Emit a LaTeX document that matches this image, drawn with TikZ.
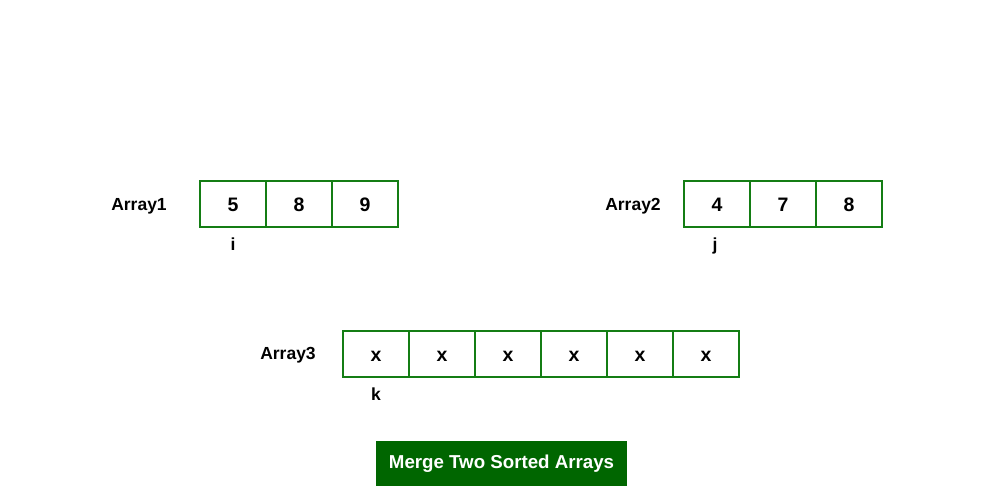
\documentclass[tikz,border=0pt]{standalone}
\usepackage{fontspec}
\setmainfont{Liberation Sans}
\definecolor{cellgreen}{RGB}{20,125,20}
\definecolor{btngreen}{RGB}{0,102,0}
\begin{document}
\begin{tikzpicture}[x=1pt,y=-1pt,
  cell/.style={draw=cellgreen,line width=2pt,minimum width=66pt,minimum height=46pt,inner sep=0pt,
    font=\fontsize{19.5}{22}\selectfont\bfseries,anchor=center,text height=16pt,text depth=0pt},
  lbl/.style={font=\fontsize{17.5}{20}\selectfont\bfseries,inner sep=0pt},
  button/.style={fill=btngreen,text=white,minimum width=251pt,minimum height=45pt,inner sep=0pt,
    font=\fontsize{18.7}{22}\selectfont\bfseries}]
\useasboundingbox (0,0) rectangle (1002,502);
% Array1
\node[lbl] (l1) at (139,206.5) {Array1};
\node[cell] (a1) at (233,204) {5};
\node[cell] (a2) at (299,204) {8};
\node[cell] (a3) at (365,204) {9};
\node[lbl] (pi) at (233,244.5) {i};
% Array2
\node[lbl] (l2) at (633,206.5) {Array2};
\node[cell] (b1) at (717,204) {4};
\node[cell] (b2) at (783,204) {7};
\node[cell] (b3) at (849,204) {8};
\node[lbl] (pj) at (715,245.5) {j};
% Array3
\node[lbl] (l3) at (288,355.5) {Array3};
\foreach \k in {0,...,5}{
  \node[cell] (c\k) at (376+66*\k,354) {x};
}
\node[lbl] (pk) at (376,394.5) {k};
% button
\node[button] (btn) at (501.5,463.5) {Merge Two Sorted Arrays};
\end{tikzpicture}
\end{document}
